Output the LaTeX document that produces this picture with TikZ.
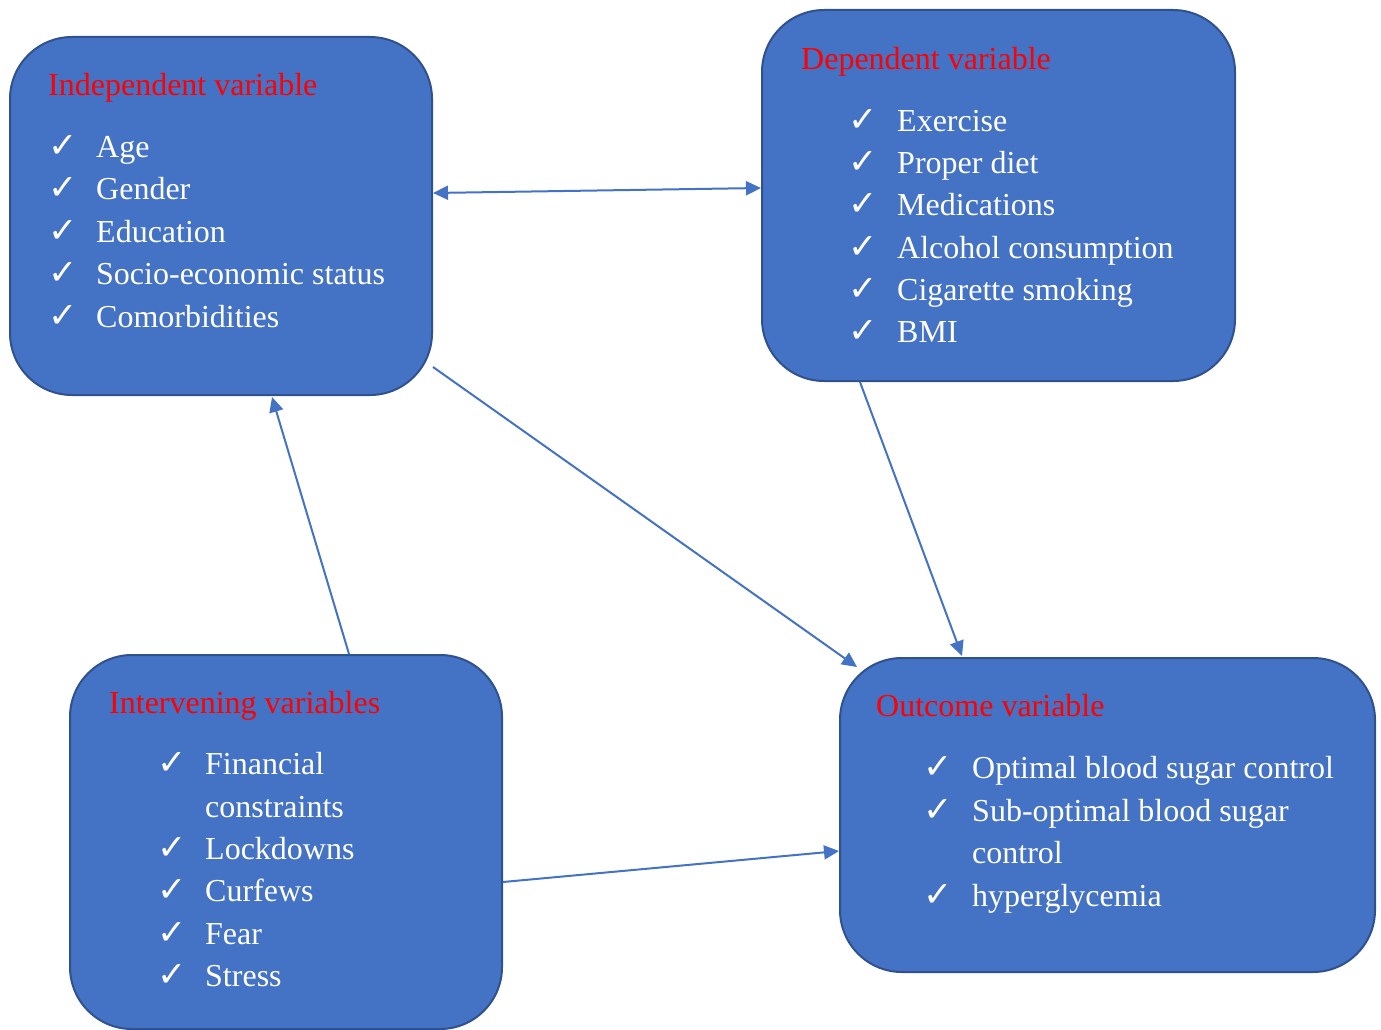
\documentclass[tikz,border=0pt]{standalone}
\usepackage{fontspec}
\setmainfont{Liberation Serif}
\newfontfamily\symfont{DejaVu Sans}
\usetikzlibrary{arrows.meta,calc}
\definecolor{boxblue}{HTML}{4472C4}
\definecolor{boxborder}{HTML}{2F528F}
\definecolor{arrowblue}{HTML}{4472C4}
\definecolor{titlered}{HTML}{FF0000}
\tikzset{
  box/.style={draw=boxborder, line width=2pt, fill=boxblue, rounded corners=62pt, inner sep=0pt},
  boxtitle/.style={anchor=base west, inner sep=0pt, text=titlered, font=\fontsize{32}{40}\selectfont},
  itemtext/.style={anchor=base west, inner sep=0pt, text=white, font=\fontsize{32}{40}\selectfont},
  chk/.style={anchor=base west, inner sep=0pt, text=white, font=\symfont\fontsize{35}{40}\selectfont},
  conn/.style={draw=arrowblue, line width=2pt, -{Triangle[length=15pt,width=14pt]}},
  conn2/.style={draw=arrowblue, line width=2pt, {Triangle[length=15pt,width=14pt]}-{Triangle[length=15pt,width=14pt]}}
}
\begin{document}
\begin{tikzpicture}[x=1pt,y=-1pt]
\useasboundingbox (0,0) rectangle (1381,1030);
% boxes
\node[box, minimum width=422pt, minimum height=358pt] (ind) at (221,216) {};
\node[box, minimum width=473pt, minimum height=371pt] (dep) at (998.5,195.5) {};
\node[box, minimum width=432pt, minimum height=374pt] (int) at (286,842) {};
\node[box, minimum width=535pt, minimum height=314pt] (out) at (1107.5,815) {};
% Independent
\node[boxtitle] (indtitle) at (48,95.5) {Independent variable};
\foreach \t [count=\i] in {Age,Gender,Education,Socio-economic status,Comorbidities}{
  \node[chk] (indc\i) at (48,{157.5+42.4*(\i-1)}) {✓};
  \node[itemtext] (indt\i) at (96,{157.5+42.4*(\i-1)}) {\t};
}
% Dependent
\node[boxtitle] (deptitle) at (801,69.5) {Dependent variable};
\foreach \t [count=\i] in {Exercise,Proper diet,Medications,Alcohol consumption,Cigarette smoking,BMI}{
  \node[chk] (depc\i) at (848,{131.5+42.2*(\i-1)}) {✓};
  \node[itemtext] (dept\i) at (897,{131.5+42.2*(\i-1)}) {\t};
}
% Intervening
\node[boxtitle] (inttitle) at (109,713.5) {Intervening variables};
\node[chk] (intc1) at (157,774.5) {✓};
\node[itemtext] (intt1) at (205,774.5) {Financial};
\node[itemtext] (intt1b) at (205,817) {constraints};
\foreach \t [count=\i from 2] in {Lockdowns,Curfews,Fear,Stress}{
  \node[chk] (intc\i) at (157,{859.5+42.4*(\i-2)}) {✓};
  \node[itemtext] (intt\i) at (205,{859.5+42.4*(\i-2)}) {\t};
}
% Outcome
\node[boxtitle] (outtitle) at (876,716.5) {Outcome variable};
\node[chk] (outc1) at (923,778.5) {✓};
\node[itemtext] (outt1) at (972,778.5) {Optimal blood sugar control};
\node[chk] (outc2) at (923,821.5) {✓};
\node[itemtext] (outt2) at (972,821.5) {Sub-optimal blood sugar};
\node[itemtext] (outt2b) at (972,863.5) {control};
\node[chk] (outc3) at (923,906.5) {✓};
\node[itemtext] (outt3) at (972,906.5) {hyperglycemia};
% connectors
\draw[conn2] ($(ind.east)+(0,-23)$) -- ($(dep.west)+(0,-7.5)$);
\draw[conn] ($(ind.east)+(0,151)$) -- ($(out.north west)+(18,10)$);
\draw[conn] ($(dep.south)+(-138.5,0)$) -- ($(out.north)+(-145.5,-1)$);
\draw[conn] ($(int.north)+(63,0)$) -- ($(ind.south)+(51,1)$);
\draw[conn] ($(int.east)+(0,40)$) -- ($(out.west)+(0,36)$);
\end{tikzpicture}
\end{document}
